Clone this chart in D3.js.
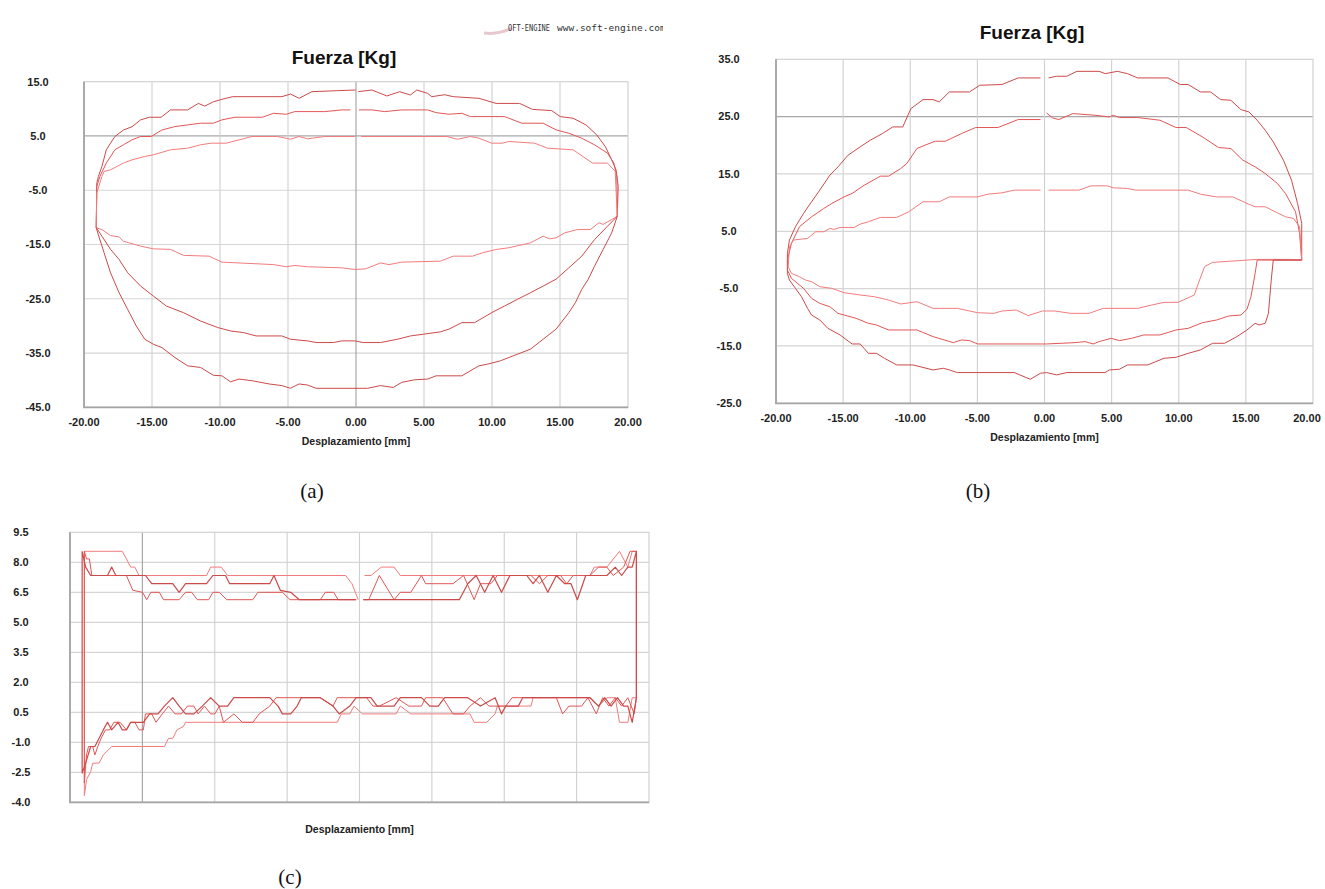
<!DOCTYPE html>
<html>
<head>
<meta charset="utf-8">
<title>Fuerza vs Desplazamiento</title>
<script src="https://d3js.org/d3.v7.min.js"></script>
<style>
	body { margin: 0; background: #fff; }
	svg { display: block; }
	.tick-label { font-family: "Liberation Sans", Arial, sans-serif; font-weight: bold; font-size: 11px; fill: #222; }
	.axis-title { font-family: "Liberation Sans", Arial, sans-serif; font-weight: bold; font-size: 10.5px; fill: #222; }
	.chart-title { font-family: "Liberation Sans", Arial, sans-serif; font-weight: bold; font-size: 19px; fill: #111; }
	.caption { font-family: "Liberation Serif", "Times New Roman", serif; font-size: 21px; fill: #111; }
</style>
</head>
<body>
<div id="fig"></div>
<script>
// ---- data (x = desplazamiento mm, y = fuerza Kg), null = gap in trace ----
var xTicks = [-20, -15, -10, -5, 0, 5, 10, 15, 20];
var aYTicks = [15, 5, -5, -15, -25, -35, -45];
var bYTicks = [35, 25, 15, 5, -5, -15, -25];
var cYTicks = [9.5, 8.0, 6.5, 5.0, 3.5, 2.0, 0.5, -1.0, -2.5, -4.0];

// (a) upper branches, outer -> inner
var aTop1 = [[-19.1,-11.9],[-19.06,-3.7],[-18.94,-2.45],[-18.68,-0.6],[-18.36,2.45],[-18.05,3.67],[-17.73,4.9],[-17.1,6.1],[-16.47,6.7],[-15.84,7.96],[-15.2,8.45],[-14.33,8.45],[-13.64,9.8],[-12.38,9.8],[-11.59,11.0],[-11.12,10.5],[-10.49,11.3],[-9.86,11.75],[-9.07,12.24],[-5.45,12.24],[-4.82,12.73],[-4.19,11.94],[-3.24,13.16],[-1.35,13.35],[-0.03,13.47],null,[0.16,13.16],[1.17,13.47],[2.27,12.37],[3.21,13.16],[4.0,12.55],[4.47,13.47],[5.26,12.86],[5.57,12.24],[6.52,12.6],[7.15,12.24],[9.04,11.94],[10.3,11.0],[12.03,11.0],[12.98,9.9],[14.39,9.67],[15.02,8.57],[15.97,8.26],[16.91,7.04],[17.7,5.2],[18.33,3.06],[18.8,0.6],[19.12,-1.23],[19.28,-4.29],[19.21,-9.8]];
var aTop2 = [[-19.1,-11.9],[-19.06,-4.29],[-18.83,-2.45],[-18.36,0.0],[-17.73,2.45],[-17.1,3.37],[-16.47,4.28],[-15.84,4.9],[-15.06,4.9],[-14.27,6.1],[-13.32,6.73],[-12.38,7.04],[-11.43,7.35],[-10.49,7.35],[-9.86,7.96],[-8.91,8.45],[-6.87,8.45],[-6.08,9.18],[-5.13,9.0],[-4.5,9.49],[-2.3,9.49],[-1.04,9.8],[-0.41,9.8],null,[0.22,9.8],[1.17,9.8],[2.11,9.49],[3.37,9.8],[5.26,9.8],[5.89,9.3],[6.83,9.0],[7.78,9.18],[8.41,8.57],[10.93,8.57],[12.19,7.35],[13.76,7.35],[14.71,6.12],[15.65,5.5],[16.6,4.59],[17.54,3.37],[18.49,1.84],[18.96,0.0],[19.18,-2.45],[19.21,-9.8]];
var aTop3 = [[-19.1,-11.9],[-19.06,-5.5],[-18.68,-2.45],[-18.52,-1.53],[-18.05,-1.23],[-17.1,0.0],[-16.47,0.6],[-15.53,1.22],[-14.9,1.53],[-13.64,2.45],[-12.38,2.75],[-11.43,3.37],[-10.65,3.67],[-9.54,3.67],[-8.6,4.28],[-7.65,4.9],[-5.76,4.9],[-4.82,4.4],[-4.19,4.9],[-3.56,4.47],[-2.3,4.9],[-0.09,4.9],null,[0.38,4.9],[6.68,4.9],[7.46,4.4],[8.41,4.9],[9.04,4.59],[9.98,3.67],[10.77,3.67],[11.24,3.98],[13.13,3.67],[14.08,2.75],[15.97,2.45],[17.39,0.0],[18.49,0.0],[19.06,-1.53],[19.21,-9.8]];
// (a) lower branches, inner -> outer
var aBot3 = [[19.21,-9.8],[18.8,-10.4],[18.17,-11.3],[17.86,-11.0],[17.23,-12.25],[16.28,-12.25],[15.34,-12.86],[14.71,-13.78],[14.24,-13.96],[13.76,-13.47],[12.82,-14.7],[11.24,-15.6],[10.3,-15.92],[9.35,-16.5],[8.57,-17.15],[7.15,-17.15],[6.2,-18.07],[3.37,-18.25],[2.43,-18.7],[1.8,-18.4],[0.69,-19.5],[-0.09,-19.6],[-1.04,-19.3],[-3.56,-19.1],[-4.5,-18.86],[-5.13,-19.1],[-6.08,-18.7],[-9.86,-18.25],[-10.8,-17.15],[-12.69,-17.0],[-13.64,-15.9],[-14.9,-15.8],[-15.84,-15.3],[-17.1,-14.4],[-17.42,-13.6],[-18.05,-13.35],[-18.68,-12.25],[-19.1,-11.9]];
var aBot2 = [[19.21,-9.8],[18.49,-11.64],[17.54,-14.1],[16.6,-17.15],[15.65,-19.3],[14.71,-21.4],[13.76,-22.66],[12.82,-23.9],[11.87,-25.1],[10.93,-26.33],[9.98,-27.56],[8.72,-29.4],[7.78,-29.4],[6.83,-30.6],[6.2,-31.1],[4.94,-31.54],[4.0,-31.85],[3.05,-32.46],[1.8,-33.07],[0.54,-33.07],[-0.09,-32.76],[-1.04,-32.76],[-1.67,-33.07],[-2.93,-33.07],[-3.56,-32.76],[-4.82,-32.46],[-5.45,-31.85],[-7.34,-31.85],[-8.28,-31.23],[-9.23,-30.93],[-10.17,-30.3],[-11.43,-29.1],[-12.69,-27.56],[-13.95,-26.33],[-14.9,-24.5],[-15.84,-22.66],[-16.79,-20.2],[-17.42,-17.76],[-18.05,-15.9],[-18.68,-13.47],[-19.1,-11.9]];
var aBot1 = [[19.21,-9.8],[18.8,-12.86],[18.17,-15.92],[17.54,-18.99],[17.07,-21.43],[16.6,-23.27],[16.13,-25.72],[15.65,-27.56],[14.71,-30.6],[13.76,-32.46],[12.82,-34.3],[11.56,-35.52],[10.61,-36.44],[9.67,-37.05],[9.04,-37.36],[7.78,-39.2],[5.89,-39.2],[5.26,-39.8],[4.31,-39.93],[3.37,-40.4],[2.74,-41.34],[1.8,-41.0],[0.85,-41.5],[-2.93,-41.5],[-3.56,-40.9],[-4.19,-40.7],[-4.82,-41.5],[-5.45,-41.0],[-6.39,-40.7],[-7.65,-40.1],[-8.6,-39.8],[-9.23,-40.3],[-9.86,-39.2],[-10.49,-39.1],[-11.43,-37.66],[-12.38,-37.36],[-13.32,-35.83],[-14.27,-34.0],[-14.9,-33.38],[-15.53,-32.46],[-16.16,-30.0],[-16.79,-26.95],[-17.42,-23.88],[-18.05,-20.2],[-18.52,-16.54],[-18.99,-12.86],[-19.1,-11.9]];

// (b) upper branches, outer -> inner
var bTop1 = [[-19.15,-2.34],[-19.15,1.14],[-19.0,3.47],[-18.55,5.8],[-17.95,8.11],[-17.35,10.15],[-16.74,12.18],[-15.99,14.79],[-15.38,16.24],[-14.63,18.28],[-13.73,19.73],[-12.97,20.89],[-12.07,22.05],[-11.31,23.2],[-10.56,23.2],[-9.95,26.4],[-9.05,27.97],[-8.3,27.97],[-7.84,27.57],[-7.09,29.31],[-5.58,29.31],[-4.83,30.47],[-3.17,30.6],[-1.96,31.75],[-0.3,31.75],null,[0.3,31.75],[0.9,32.04],[1.66,32.04],[2.41,32.9],[4.07,32.9],[4.52,32.5],[5.43,32.9],[6.18,32.5],[6.94,31.75],[9.2,31.75],[10.11,30.6],[10.71,30.6],[11.61,29.31],[12.37,29.31],[13.12,27.97],[13.88,27.86],[14.63,26.23],[15.23,25.82],[15.84,24.37],[16.44,22.63],[17.04,20.6],[17.8,17.4],[18.4,13.92],[18.85,9.86],[19.16,6.37],[19.16,-0.02]];
var bTop2 = [[-19.15,-1.76],[-19.15,-0.02],[-18.85,2.89],[-18.25,5.8],[-17.35,7.53],[-16.44,8.98],[-15.84,9.86],[-14.93,11.0],[-14.33,11.6],[-13.42,13.05],[-12.22,14.62],[-11.61,14.62],[-10.71,15.95],[-10.26,16.82],[-9.5,19.44],[-8.9,20.02],[-8.14,20.71],[-7.39,20.71],[-6.18,22.05],[-5.13,23.1],[-3.47,23.1],[-1.96,24.49],[-0.3,24.49],null,[0.15,25.65],[0.6,24.78],[1.06,24.49],[2.11,25.53],[3.77,25.24],[4.83,24.95],[5.13,25.24],[5.58,24.84],[6.94,24.84],[8.6,24.37],[9.8,23.1],[10.56,23.1],[11.76,21.47],[12.97,19.61],[13.88,19.44],[14.78,17.4],[15.69,16.24],[16.44,15.08],[17.35,13.34],[17.95,11.6],[18.7,8.4],[19.0,4.63],[19.16,-0.02]];
var bTop3 = [[-19.09,-1.18],[-19.0,2.31],[-18.7,3.47],[-17.65,3.76],[-17.04,4.92],[-16.44,4.92],[-15.99,5.5],[-15.69,5.33],[-15.23,5.67],[-14.18,5.67],[-13.73,6.25],[-13.12,6.66],[-12.22,7.42],[-11.01,7.42],[-10.11,8.4],[-9.05,10.15],[-7.84,10.15],[-7.09,11.0],[-4.98,11.0],[-4.22,11.48],[-3.17,11.71],[-2.26,12.18],[-0.3,12.18],null,[0.3,12.18],[2.56,12.18],[3.47,12.93],[4.68,12.93],[5.13,12.58],[6.18,12.47],[6.79,12.18],[10.71,12.18],[11.61,11.48],[12.82,11.0],[14.03,11.0],[15.08,9.86],[15.69,9.28],[16.44,9.28],[17.19,8.4],[17.95,7.53],[18.55,7.24],[19.0,5.8],[19.16,-0.02]];
// (b) lower branches, inner -> outer
var bBot3 = [[19.16,-0.02],[18.25,0.1],[15.84,0.1],[12.52,-0.42],[11.92,-1.18],[11.46,-4.08],[11.16,-6.11],[9.95,-7.39],[8.9,-7.39],[7.99,-7.86],[6.94,-8.44],[4.37,-8.44],[3.32,-9.31],[1.96,-9.31],[0.75,-8.9],[-0.15,-8.9],[-1.21,-9.7],[-2.11,-8.73],[-3.17,-8.9],[-3.77,-9.31],[-4.98,-9.2],[-6.49,-8.44],[-8.3,-8.44],[-9.5,-7.28],[-10.71,-7.68],[-11.61,-6.99],[-12.67,-6.41],[-13.73,-6.11],[-14.93,-5.71],[-15.84,-4.95],[-16.74,-4.66],[-17.35,-3.79],[-17.8,-3.5],[-18.25,-2.92],[-18.85,-2.34],[-19.09,-1.18]];
var bBot2 = [[19.16,-0.02],[15.84,-0.02],[15.69,-2.34],[15.38,-6.41],[15.08,-8.61],[14.63,-9.6],[13.73,-9.77],[12.82,-10.47],[11.76,-10.94],[10.71,-11.92],[9.8,-12.21],[8.6,-13.08],[7.39,-13.08],[6.49,-13.66],[5.58,-14.07],[4.98,-13.66],[4.07,-14.24],[3.62,-14.65],[3.02,-14.24],[2.26,-14.42],[0.15,-14.65],[-4.98,-14.65],[-5.58,-14.07],[-6.18,-13.95],[-6.79,-14.42],[-8.3,-13.37],[-9.5,-12.21],[-11.61,-12.21],[-12.52,-11.34],[-13.12,-11.05],[-14.03,-10.18],[-14.93,-9.6],[-15.38,-9.31],[-15.99,-8.15],[-16.74,-7.57],[-17.35,-6.7],[-17.95,-4.95],[-18.4,-4.08],[-18.85,-3.21],[-19.15,-1.76]];
var bBot1 = [[19.16,-0.02],[17.04,-0.02],[16.89,-3.5],[16.68,-9.31],[16.44,-11.05],[15.99,-11.34],[15.69,-11.05],[15.08,-12.21],[14.33,-13.37],[13.42,-14.53],[12.52,-14.53],[11.61,-15.7],[10.71,-16.28],[9.8,-16.97],[8.9,-17.15],[7.69,-18.31],[6.18,-18.31],[5.58,-19.06],[4.83,-19.18],[4.52,-19.64],[1.66,-19.64],[0.9,-20.05],[0.15,-19.64],[-0.3,-19.76],[-1.06,-20.81],[-2.26,-19.64],[-6.49,-19.64],[-7.09,-19.18],[-7.54,-18.89],[-8.3,-19.18],[-9.8,-18.31],[-11.01,-18.31],[-11.92,-17.15],[-12.52,-16.28],[-13.12,-16.28],[-13.73,-14.65],[-14.33,-14.65],[-15.23,-13.08],[-16.14,-11.92],[-16.74,-10.47],[-17.35,-9.6],[-17.65,-8.44],[-18.1,-6.41],[-18.55,-4.95],[-19.0,-3.5],[-19.15,-2.34]];

// (c) upper and lower traces (light, medium, dark)
var cUp1 = [[-19.01,8.55],[-16.39,8.55],[-16.1,8.17],[-15.81,7.76],[-15.52,7.76],[-15.23,7.34],[-10.57,7.34],[-10.28,7.76],[-9.55,7.76],[-9.11,7.34],[-0.96,7.34],[-0.52,6.93],[-0.09,6.13],null,[0.35,7.34],[0.79,7.34],[1.51,7.76],[2.39,7.76],[2.82,7.34],[15.92,7.34],[16.22,7.76],[17.09,7.76],[17.96,8.55],[18.54,7.76],[18.84,8.55],[19.13,8.55]];
var cUp2 = [[-19.01,8.55],[-18.86,8.17],[-18.66,8.17],[-18.49,7.34],[-16.1,7.34],[-15.66,6.6],[-14.99,6.5],[-14.7,6.13],[-14.41,6.5],[-13.83,6.5],[-13.54,6.13],[-12.46,6.13],[-12.02,6.5],[-11.59,6.5],[-11.21,6.13],[-10.42,6.13],[-10.13,6.5],[-9.69,6.5],[-9.17,6.13],[-7.37,6.13],[-7.02,6.5],[-5.33,6.5],[-4.8,6.13],[-2.71,6.13],[-2.36,6.5],[-1.78,6.5],[-1.48,6.13],[-0.23,6.13],null,[0.26,6.13],[0.64,6.13],[1.37,7.34],[2.39,6.13],[2.82,6.5],[3.55,6.5],[4.28,7.34],[4.57,6.93],[6.46,6.93],[7.19,7.34],[7.92,6.13],[8.36,6.93],[9.08,6.93],[9.52,7.34],[11.85,7.34],[12.43,6.93],[13.01,7.34],[13.89,7.34],[14.32,6.93],[14.76,7.34],[15.92,7.34],[16.51,7.76],[17.09,7.76],[17.53,7.34],[18.25,7.76],[18.69,8.55],[19.13,8.55]];
var cUp3 = [[-19.16,8.55],[-18.92,7.76],[-18.57,7.34],[-17.41,7.34],[-17.12,7.76],[-16.83,7.34],[-14.79,7.34],[-14.35,6.93],[-12.9,6.93],[-12.46,6.5],[-12.02,6.93],[-10.57,6.93],[-10.13,7.34],[-9.26,7.34],[-8.97,6.93],[-6.2,6.93],[-5.91,7.34],[-5.47,6.6],[-4.75,6.5],[-4.16,6.13],[-0.23,6.13],null,[0.26,6.13],[6.9,6.13],[7.48,6.93],[8.06,7.34],[8.65,6.5],[9.23,7.34],[9.81,6.5],[10.39,7.34],[11.56,7.34],[11.99,6.93],[12.43,7.34],[13.01,6.5],[13.6,7.34],[14.18,6.93],[14.61,6.93],[15.05,6.13],[15.63,7.34],[17.09,7.34],[17.67,7.76],[18.11,7.34],[18.54,7.76],[18.84,7.76],[19.13,8.55]];
var cLo1 = [[-19.01,-3.67],[-18.86,-2.87],[-18.57,-2.46],[-18.43,-2.04],[-17.99,-2.04],[-17.7,-1.63],[-17.12,-1.21],[-13.48,-1.21],[-13.19,-0.8],[-12.9,-0.8],[-12.61,-0.38],[-12.17,-0.21],[-12.02,0.0],[-1.54,0.0],[-1.25,0.42],[-0.67,0.42],[-0.38,0.81],[0.2,0.42],[2.53,0.42],[2.82,0.81],[3.55,0.42],[7.63,0.42],[7.92,0.0],[8.79,0.0],[9.37,0.42],[9.52,0.81],[11.85,0.81],[11.99,1.23],[15.92,1.23],[16.51,0.81],[17.09,1.23],[17.67,1.23],[17.96,0.0],[18.54,0.0],[18.84,1.23],[19.13,1.23]];
var cLo2 = [[-19.01,-3.04],[-18.86,-1.63],[-18.72,-1.21],[-18.43,-1.21],[-18.28,-1.63],[-18.08,-1.21],[-17.85,-0.8],[-17.55,-0.38],[-17.26,-0.38],[-16.97,0.0],[-16.54,0.0],[-16.1,-0.38],[-15.81,0.0],[-15.52,0.0],[-15.23,-0.38],[-14.93,-0.38],[-14.79,0.42],[-14.35,0.42],[-14.06,0.0],[-13.62,0.42],[-13.19,0.81],[-12.75,0.42],[-12.31,0.42],[-11.88,0.81],[-11.44,0.81],[-11.15,0.42],[-10.71,0.81],[-10.28,0.42],[-9.99,0.42],[-9.69,0.81],[-9.4,0.0],[-8.68,0.42],[-8.09,0.0],[-7.37,0.0],[-6.93,0.42],[-6.2,0.81],[-5.76,1.23],[-2.71,1.23],[-1.83,0.81],[-1.54,1.23],[0.49,1.23],[0.93,0.81],[1.37,0.81],[2.53,1.23],[3.41,0.81],[4.28,0.81],[4.57,1.23],[5.74,1.23],[6.46,0.42],[7.19,0.42],[7.63,0.81],[8.36,1.23],[8.94,0.81],[10.1,0.81],[10.54,1.23],[13.6,1.23],[14.03,0.42],[14.47,0.81],[15.34,0.81],[15.78,1.23],[16.36,0.42],[16.8,1.23],[17.23,0.81],[17.67,1.23],[18.11,0.81],[18.54,1.23],[18.98,0.42],[19.13,1.23]];
var cLo3 = [[-19.16,-2.54],[-18.92,-2.04],[-18.57,-1.21],[-18.28,-1.21],[-17.99,-0.8],[-17.7,-0.38],[-17.41,0.0],[-17.12,-0.38],[-16.68,0.0],[-16.39,-0.38],[-16.1,-0.38],[-15.81,0.0],[-14.93,0.0],[-14.5,0.42],[-13.92,0.42],[-13.48,0.81],[-12.9,1.23],[-12.46,0.81],[-12.02,0.42],[-11.44,0.42],[-10.86,0.81],[-10.28,1.23],[-9.69,0.81],[-9.11,0.81],[-8.68,1.23],[-6.2,1.23],[-5.62,0.81],[-5.33,0.42],[-4.75,0.42],[-4.31,0.81],[-4.02,1.23],[-2.71,1.23],[-1.83,0.81],[-1.4,0.42],[-0.67,0.81],[-0.23,1.23],[0.79,1.23],[1.22,0.81],[2.39,0.81],[2.82,1.23],[4.28,1.23],[4.86,0.81],[5.44,0.81],[5.88,1.23],[7.48,1.23],[8.36,0.81],[9.37,1.23],[9.81,0.42],[10.1,0.81],[10.98,0.81],[11.27,1.23],[15.92,1.23],[16.51,0.81],[16.94,1.23],[17.38,0.81],[17.82,1.23],[18.25,0.81],[18.54,0.81],[18.84,0.0],[19.13,1.23]];

var light = "#f27c7c", mid = "#e25656", dark = "#cc4a4a";

// ---- drawing ----
var svg = d3.select("#fig").append("svg")
	.attr("width", 1325)
	.attr("height", 889);

var drawPanel = function(p) {
	var x = d3.scaleLinear().domain([-20, 20]).range([p.left, p.right]);
	var y = d3.scaleLinear().domain([p.yTicks[p.yTicks.length - 1], p.yTicks[0]]).range([p.bottom, p.top]);
	var g = svg.append("g");

	// grid
	g.selectAll(".hgrid")
		.data(p.yTicks.slice(1, -1))
		.enter().append("line")
		.attr("x1", p.left).attr("x2", p.right)
		.attr("y1", function(d) { return y(d); })
		.attr("y2", function(d) { return y(d); })
		.attr("stroke", function(d) { return d === p.darkY ? "#a8a8a8" : "#d6d6d6"; })
		.attr("stroke-width", 1.2);

	g.selectAll(".vgrid")
		.data(xTicks.slice(1, -1))
		.enter().append("line")
		.attr("y1", p.top).attr("y2", p.bottom)
		.attr("x1", function(d) { return x(d); })
		.attr("x2", function(d) { return x(d); })
		.attr("stroke", function(d) { return d === p.darkX ? "#a0a0a0" : "#d0d0d0"; })
		.attr("stroke-width", 1.1);

	// frame
	g.append("rect")
		.attr("x", p.left).attr("y", p.top)
		.attr("width", p.right - p.left).attr("height", p.bottom - p.top)
		.attr("fill", "none").attr("stroke", "#d2d2d2").attr("stroke-width", 1.2);
	g.append("path")
		.attr("d", "M" + p.left + "," + p.top + "V" + p.bottom + "H" + p.right)
		.attr("fill", "none").attr("stroke", "#a4a4a4").attr("stroke-width", 1.8);

	// tick labels
	g.selectAll(".ylab")
		.data(p.yTicks)
		.enter().append("text")
		.attr("class", "tick-label")
		.attr("x", p.yLabelX)
		.attr("y", function(d) { return y(d); })
		.attr("dy", "0.35em")
		.attr("text-anchor", "middle")
		.text(function(d) { return d.toFixed(1); });

	if (p.xLabels) {
		g.selectAll(".xlab")
			.data(xTicks)
			.enter().append("text")
			.attr("class", "tick-label")
			.attr("x", function(d) { return Math.min(x(d), p.xLabelMax || 1e4); })
			.attr("y", p.bottom + 15)
			.attr("dy", "0.35em")
			.attr("text-anchor", "middle")
			.text(function(d) { return d.toFixed(2); });
	}

	g.append("text")
		.attr("class", "axis-title")
		.attr("x", (p.left + p.right) / 2)
		.attr("y", p.xTitleY)
		.attr("dy", "0.35em")
		.attr("text-anchor", "middle")
		.text("Desplazamiento [mm]");

	if (p.title) {
		g.append("text")
			.attr("class", "chart-title")
			.attr("x", p.titleX)
			.attr("y", p.titleY)
			.attr("dy", "0.35em")
			.attr("text-anchor", "middle")
			.text(p.title);
	}

	// traces
	var line = d3.line()
		.defined(function(d) { return d !== null; })
		.x(function(d) { return x(d[0]); })
		.y(function(d) { return y(d[1]); });

	p.series.forEach(function(s) {
		g.append("path")
			.datum(s.data)
			.attr("d", line)
			.attr("fill", "none")
			.attr("stroke", s.color)
			.attr("stroke-width", s.width || 1.0)
			.attr("stroke-linejoin", "round");
	});

	svg.append("text")
		.attr("class", "caption")
		.attr("x", p.capX)
		.attr("y", p.capY)
		.attr("dy", "0.35em")
		.attr("text-anchor", "middle")
		.text(p.caption);
};

drawPanel({
	left: 84, right: 628, top: 81.7, bottom: 407.3,
	yTicks: aYTicks, darkY: 5, darkX: 0, yLabelX: 38, xLabels: true,
	xTitleY: 441, title: "Fuerza [Kg]", titleX: 344, titleY: 57,
	caption: "(a)", capX: 312, capY: 491,
	series: [
		{data: aTop1, color: dark}, {data: aTop2, color: mid}, {data: aTop3, color: light},
		{data: aBot3, color: light}, {data: aBot2, color: dark}, {data: aBot1, color: dark}
	]
});

drawPanel({
	left: 776, right: 1313, top: 59.3, bottom: 403.3,
	yTicks: bYTicks, darkY: 25, darkX: null, yLabelX: 729, xLabels: true, xLabelMax: 1307,
	xTitleY: 437, title: "Fuerza [Kg]", titleX: 1032, titleY: 32,
	caption: "(b)", capX: 978, capY: 491,
	series: [
		{data: bTop1, color: dark}, {data: bTop2, color: mid}, {data: bTop3, color: light},
		{data: bBot3, color: light}, {data: bBot2, color: mid}, {data: bBot1, color: dark}
	]
});

drawPanel({
	left: 70, right: 649, top: 532.3, bottom: 802.3,
	yTicks: cYTicks, darkY: null, darkX: -15, yLabelX: 21, xLabels: false,
	xTitleY: 829, title: null,
	caption: "(c)", capX: 290, capY: 877,
	series: [
		{data: cUp1.concat(cLo1.slice().reverse(), [cUp1[0]]), color: light},
		{data: cUp2.concat(cLo2.slice().reverse(), [cUp2[0]]), color: mid},
		{data: cUp3.concat(cLo3.slice().reverse(), [cUp3[0]]), color: dark, width: 1.2}
	]
});

// software watermark above panel (a)
var wm = svg.append("g");
wm.append("defs").append("clipPath").attr("id", "wmclip")
	.append("rect").attr("x", 470).attr("y", 18).attr("width", 193).attr("height", 22);
wm.append("path")
	.attr("d", "M484,33 Q498,35 512,28")
	.attr("fill", "none").attr("stroke", "#e8c8cc").attr("stroke-width", 3);
wm.append("text")
	.attr("x", 508).attr("y", 31)
	.attr("font-family", "'DejaVu Sans Mono', monospace")
	.attr("font-size", 9).attr("fill", "#333")
	.attr("textLength", 42).attr("lengthAdjust", "spacingAndGlyphs")
	.text("OFT-ENGINE");
wm.append("text")
	.attr("clip-path", "url(#wmclip)")
	.attr("x", 557).attr("y", 31)
	.attr("font-family", "'DejaVu Sans Mono', monospace")
	.attr("font-size", 9.5).attr("fill", "#333")
	.text("www.soft-engine.com");
</script>
</body>
</html>
